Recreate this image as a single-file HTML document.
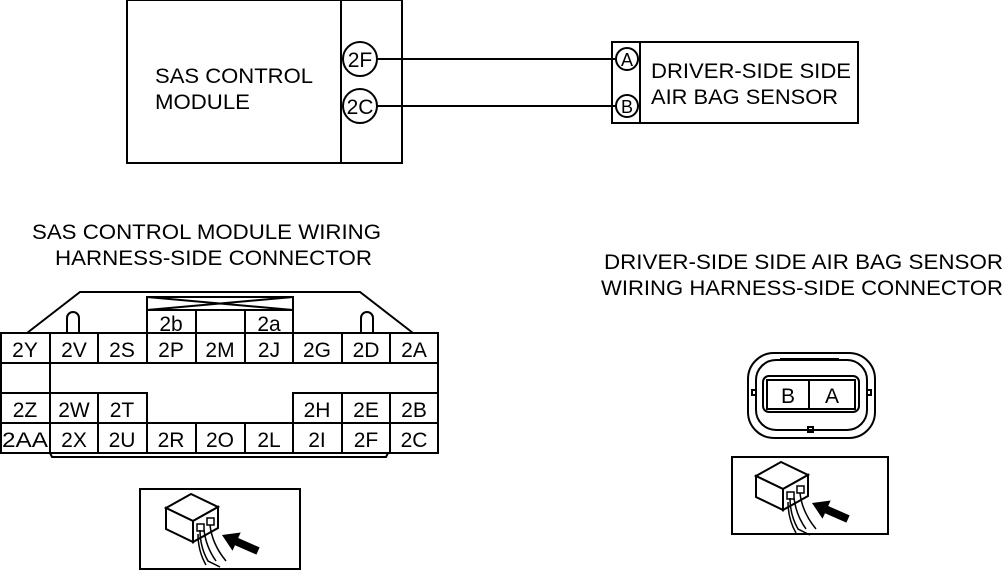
<!DOCTYPE html>
<html><head><style>
body{margin:0;background:#fff;}
svg text{font-family:"Liberation Sans",sans-serif;fill:#000;}
</style></head><body>
<svg width="1006" height="570" viewBox="0 0 1006 570" xmlns="http://www.w3.org/2000/svg">
<defs>
<g id="icon">
  <path d="M26,19 L51,5 L78,18 L53,32 Z" fill="#fff" stroke="#000" stroke-width="2"/>
  <path d="M26,19 L26,40 L53,53 L53,32 Z" fill="#fff" stroke="#000" stroke-width="2"/>
  <path d="M53,32 L78,18 L78,39 L53,53 Z" fill="#fff" stroke="#000" stroke-width="2"/>
  <rect x="57" y="35" width="7" height="7" fill="none" stroke="#000" stroke-width="1.5"/>
  <rect x="67" y="29" width="7" height="7" fill="none" stroke="#000" stroke-width="1.5"/>
  <path d="M60,41 Q60,58 68,72 L80,78 M70,36 Q72,55 86,72 M58,45 Q58,62 66,76 M64,41 Q66,58 76,72" fill="none" stroke="#000" stroke-width="1.5"/>
  <polygon points="82,46 100.7,43.5 98.2,49 119.6,58.4 116.4,65.6 95,56.2 92.5,61.7" fill="#000"/>
</g>
</defs>
<g fill="none" stroke="#000" stroke-width="2">
  <rect x="127" y="0" width="275" height="163"/>
  <line x1="341" y1="0" x2="341" y2="163"/>
  <circle cx="360" cy="59" r="17"/>
  <circle cx="360" cy="106" r="17"/>
  <line x1="377" y1="59" x2="616" y2="59"/>
  <line x1="377" y1="106" x2="616" y2="106"/>
  <rect x="612" y="42" width="246" height="81"/>
  <line x1="640" y1="42" x2="640" y2="123"/>
  <circle cx="627" cy="59" r="11"/>
  <circle cx="627" cy="106" r="11"/>
</g>
<text x="155" y="83" font-size="21" textLength="158" lengthAdjust="spacingAndGlyphs">SAS CONTROL</text>
<text x="155" y="109" font-size="21" textLength="95" lengthAdjust="spacingAndGlyphs">MODULE</text>
<text x="360" y="67" font-size="21" text-anchor="middle">2F</text>
<text x="360" y="114" font-size="21" text-anchor="middle">2C</text>
<text x="627" y="66" font-size="18" text-anchor="middle">A</text>
<text x="627" y="113" font-size="18" text-anchor="middle">B</text>
<text x="651" y="78" font-size="21" textLength="200" lengthAdjust="spacingAndGlyphs">DRIVER-SIDE SIDE</text>
<text x="651" y="104" font-size="21" textLength="187" lengthAdjust="spacingAndGlyphs">AIR BAG SENSOR</text>

<text x="32" y="239" font-size="21" textLength="349" lengthAdjust="spacingAndGlyphs">SAS CONTROL MODULE WIRING</text>
<text x="55" y="265" font-size="21" textLength="317" lengthAdjust="spacingAndGlyphs">HARNESS-SIDE CONNECTOR</text>
<text x="604" y="269" font-size="21" textLength="399" lengthAdjust="spacingAndGlyphs">DRIVER-SIDE SIDE AIR BAG SENSOR</text>
<text x="601" y="295" font-size="21" textLength="402" lengthAdjust="spacingAndGlyphs">WIRING HARNESS-SIDE CONNECTOR</text>

<g fill="none" stroke="#000" stroke-width="2">
  <path d="M27,333 L80,292 L360,292 L413,333"/>
  <rect x="147" y="297" width="146" height="13"/>
  <path d="M147,297 L293,310 M147,310 L293,297"/>
  <rect x="147" y="310" width="49" height="23"/>
  <rect x="245" y="310" width="48" height="23"/>
  <path d="M67,333 L67,318 A6,6 0 0 1 79,318 L79,333"/>
  <path d="M361,333 L361,318 A6,6 0 0 1 373,318 L373,333"/>
  <rect x="1" y="333" width="437" height="120"/>
  <line x1="1" y1="363" x2="438" y2="363"/>
  <line x1="1" y1="423" x2="438" y2="423"/>
  <path d="M50,333 V363 M98,333 V363 M147,333 V363 M196,333 V363 M245,333 V363 M293,333 V363 M342,333 V363 M390,333 V363"/>
  <path d="M50,363 V453 M1,393 H147 V423 M98,393 V453 M293,423 V393 H438 M342,393 V453 M390,393 V453 M147,423 V453 M196,423 V453 M245,423 V453 M293,423 V453"/>
  <path d="M50,453 L52,457 H386 L388,453"/>
</g>
<g font-size="21" text-anchor="middle">
  <text x="171" y="331">2b</text><text x="269" y="331">2a</text>
  <text x="25" y="357">2Y</text><text x="74" y="357">2V</text><text x="122" y="357">2S</text><text x="171" y="357">2P</text><text x="220" y="357">2M</text><text x="269" y="357">2J</text><text x="317" y="357">2G</text><text x="366" y="357">2D</text><text x="414" y="357">2A</text>
  <text x="25" y="417">2Z</text><text x="74" y="417">2W</text><text x="122" y="417">2T</text><text x="317" y="417">2H</text><text x="366" y="417">2E</text><text x="414" y="417">2B</text>
  <text x="25" y="447" textLength="46" lengthAdjust="spacingAndGlyphs">2AA</text><text x="74" y="447">2X</text><text x="122" y="447">2U</text><text x="171" y="447">2R</text><text x="220" y="447">2O</text><text x="269" y="447">2L</text><text x="317" y="447">2I</text><text x="366" y="447">2F</text><text x="414" y="447">2C</text>
</g>

<g fill="none" stroke="#000" stroke-width="2">
  <rect x="748" y="353" width="127" height="85" rx="26"/>
  <rect x="756" y="360" width="111" height="70" rx="20"/>
  <path d="M781,360 V359 H838 V360"/>
  <rect x="763" y="376" width="96" height="36" rx="6"/>
  <rect x="767" y="380" width="88" height="29"/>
  <line x1="809" y1="380" x2="809" y2="409"/>
  <rect x="752" y="390" width="4" height="5"/>
  <rect x="867" y="390" width="4" height="5"/>
  <rect x="808" y="427" width="5" height="5"/>
</g>
<text x="788" y="403" font-size="21" text-anchor="middle">B</text>
<text x="832" y="403" font-size="21" text-anchor="middle">A</text>

<rect x="140" y="489" width="160" height="80" fill="none" stroke="#000" stroke-width="2"/>
<use href="#icon" transform="translate(140,489)"/>
<rect x="732" y="457" width="156" height="77" fill="none" stroke="#000" stroke-width="2"/>
<use href="#icon" transform="translate(730,457)"/>
</svg>
</body></html>
